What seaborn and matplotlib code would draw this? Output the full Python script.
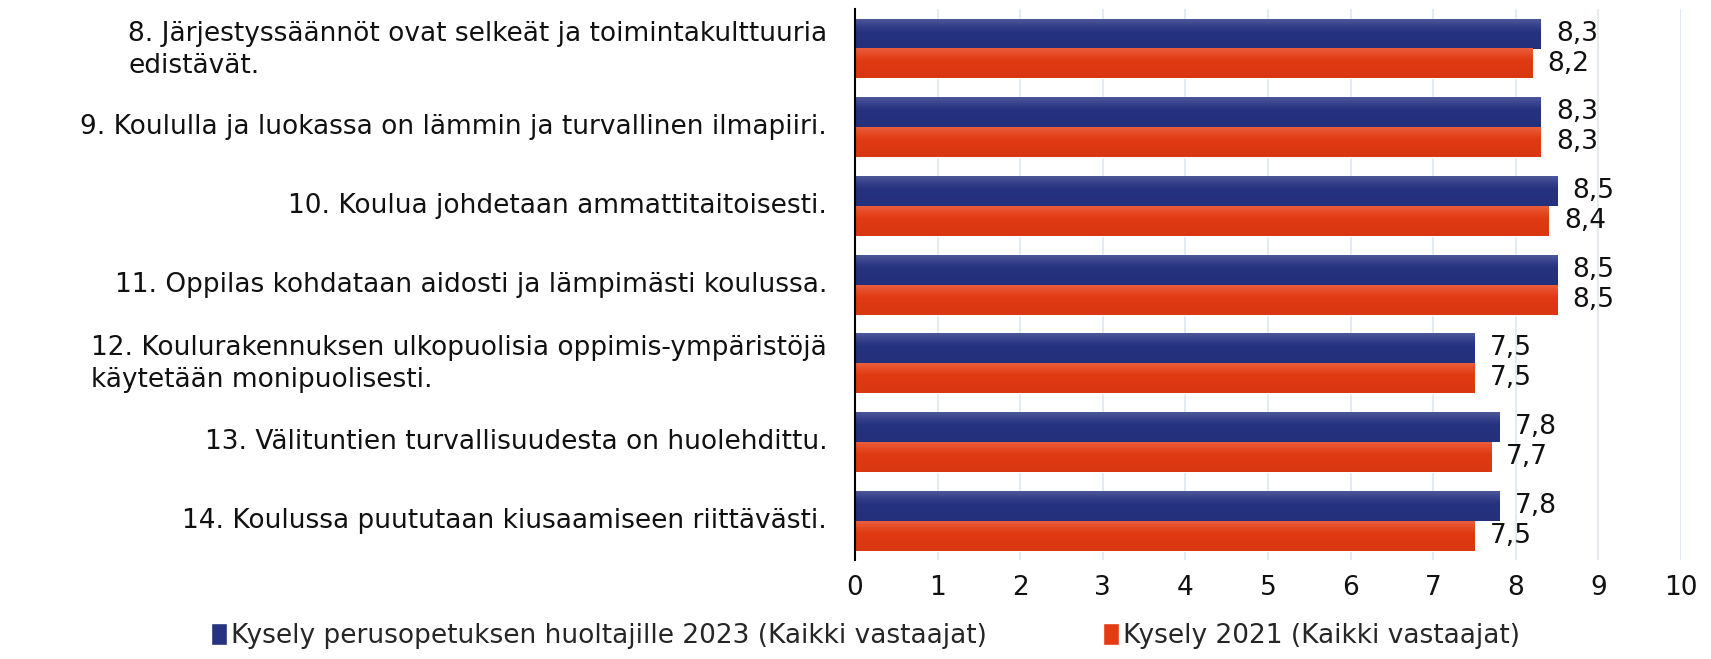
import numpy as np
import pandas as pd
import matplotlib.pyplot as plt
import matplotlib.colors as mcolors
import matplotlib.transforms as mtransforms
import seaborn as sns

QUESTIONS = [
    "8. Järjestyssäännöt ovat selkeät ja toimintakulttuuria\nedistävät.",
    "9. Koululla ja luokassa on lämmin ja turvallinen ilmapiiri.",
    "10. Koulua johdetaan ammattitaitoisesti.",
    "11. Oppilas kohdataan aidosti ja lämpimästi koulussa.",
    "12. Koulurakennuksen ulkopuolisia oppimis-ympäristöjä\nkäytetään monipuolisesti.",
    "13. Välituntien turvallisuudesta on huolehdittu.",
    "14. Koulussa puututaan kiusaamiseen riittävästi.",
]
SERIES_2023 = "Kysely perusopetuksen huoltajille 2023 (Kaikki vastaajat)"
SERIES_2021 = "Kysely 2021 (Kaikki vastaajat)"
VALUES_2023 = [8.3, 8.3, 8.5, 8.5, 7.5, 7.8, 7.8]
VALUES_2021 = [8.2, 8.3, 8.4, 8.5, 7.5, 7.7, 7.5]
X_TICKS = list(range(0, 11))

NAVY = "#263383"
RED = "#e63b12"
FS = 19

sns.set_theme(style="white")
# wide glyphs to approximate the letter-spaced text of the original
plt.rcParams["font.family"] = ["DejaVu Sans"]

df = pd.DataFrame({
    "question": QUESTIONS * 2,
    "series": [SERIES_2023] * len(QUESTIONS) + [SERIES_2021] * len(QUESTIONS),
    "value": VALUES_2023 + VALUES_2021,
})

fig = plt.figure(figsize=(17.11, 6.59), dpi=100)
ax = fig.add_axes([0.4997, 0.150, 0.4828, 0.836])

sns.barplot(
    data=df, y="question", x="value", hue="series", orient="h",
    palette=[NAVY, RED], width=0.76, gap=0, saturation=1,
    errorbar=None, ax=ax, zorder=2,
)

# vertical gradient on each bar (lighter top edge)
def gradient(base, light_amt):
    rgb = np.array(mcolors.to_rgb(base))
    t = np.linspace(0, 1, 64)
    mix = light_amt * np.clip(1 - t / 0.45, 0, 1) ** 1.3
    dark = 1 - 0.06 * t
    cols = rgb[None, :] * dark[:, None] * (1 - mix[:, None]) + mix[:, None] * 1.0
    return cols[:, None, :]

yl = ax.get_ylim()
for patch in list(ax.patches):
    fc = patch.get_facecolor()
    img = gradient(fc[:3], 0.18)
    x0, y0 = patch.get_x(), patch.get_y()
    w, h = patch.get_width(), patch.get_height()
    ax.imshow(img, extent=(x0, x0 + w, y0, y0 + h), origin="lower",
              aspect="auto", zorder=2.5, interpolation="bilinear")
ax.set_xlim(0, 10)
ax.set_ylim(yl)

for container, vals in zip(ax.containers, [VALUES_2023, VALUES_2021]):
    ax.bar_label(container, labels=[f"{v:.1f}".replace(".", ",") for v in vals],
                 padding=11, fontsize=FS, color="#111111")

ax.set_xticks(X_TICKS)
ax.set_xticklabels([str(t) for t in X_TICKS])
ax.tick_params(axis="x", length=0, pad=11, labelsize=FS)
ax.tick_params(axis="y", length=0, pad=20, labelsize=FS)
for lbl in ax.get_yticklabels():
    lbl.set_multialignment("left")
    lbl.set_linespacing(1.3)
    lbl.set_verticalalignment("center_baseline")
    lbl.set_color("#111111")
    shift = 5 if "\n" in lbl.get_text() else 3
    lbl.set_transform(lbl.get_transform()
                      + mtransforms.ScaledTranslation(0, shift / 100, fig.dpi_scale_trans))
for lbl in ax.get_xticklabels():
    lbl.set_color("#111111")

ax.grid(axis="x", color="#dde6f0", linewidth=1.2, zorder=0)
ax.set_axisbelow(True)
ax.set_xlabel("")
ax.set_ylabel("")
for side in ["top", "right", "bottom"]:
    ax.spines[side].set_visible(False)
ax.spines["left"].set_color("black")
ax.spines["left"].set_linewidth(1.5)
ax.spines["left"].set_zorder(4)

handles, labels = ax.get_legend_handles_labels()
ax.get_legend().remove()
fig.legend(handles, labels, loc="center", bbox_to_anchor=(0.506, 0.035), ncol=2,
           frameon=False, fontsize=FS, handlelength=0.6, handleheight=0.9,
           handletextpad=0.15, columnspacing=4.4)

fig.savefig("out.png", dpi=100)
